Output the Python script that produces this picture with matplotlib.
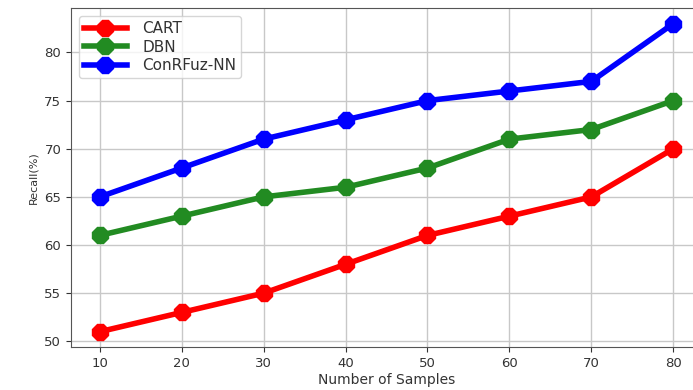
import matplotlib
matplotlib.use("Agg")
import matplotlib.pyplot as plt

# recall of each method for growing sample counts
samples = [10, 20, 30, 40, 50, 60, 70, 80]
cart = [51, 53, 55, 58, 61, 63, 65, 70]
dbn = [61, 63, 65, 66, 68, 71, 72, 75]
conrfuz = [65, 68, 71, 73, 75, 76, 77, 83]

fig = plt.figure(figsize=(6.93, 3.9), dpi=100)
ax = fig.add_axes([0.1025, 0.110, 0.9105, 0.869])

style = dict(linewidth=4, marker='8', markersize=13)
ax.plot(samples, cart, color='red', label='CART', **style)
ax.plot(samples, dbn, color='#228b22', label='DBN', **style)
ax.plot(samples, conrfuz, color='blue', label='ConRFuz-NN', **style)

ax.set_xticks(samples)
ax.set_yticks([50, 55, 60, 65, 70, 75, 80])
ax.tick_params(labelsize=9.5, colors='#333333')
ax.set_xlabel('Number of Samples', fontsize=10, labelpad=2, color='#333333')
ax.set_ylabel('Recall(%)', fontsize=8, labelpad=4, color='#333333')
ax.grid(True, color='#c8c8c8', linewidth=1)
for s in ax.spines.values():
    s.set_color('#555555')

leg = ax.legend(loc='upper left', fontsize=11, handlelength=2.8,
                borderpad=0.35, labelspacing=0.22, handletextpad=1.0)
for t in leg.get_texts():
    t.set_color('#333333')

fig.savefig('out.png', dpi=100)
